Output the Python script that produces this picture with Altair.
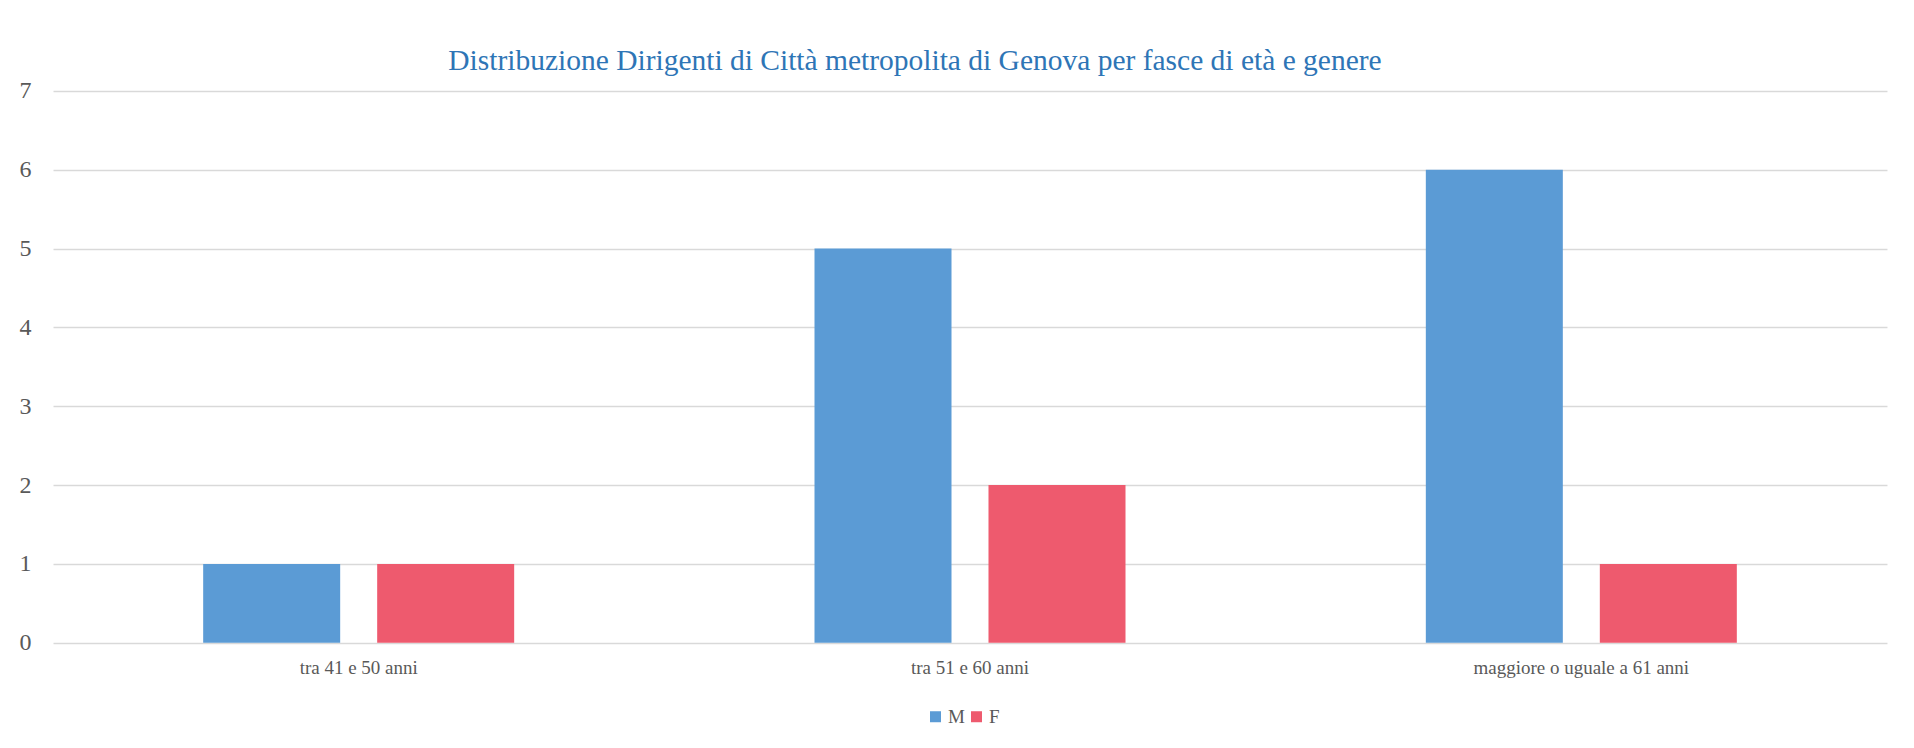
import altair as alt
import pandas as pd

categories = ["tra 41 e 50 anni", "tra 51 e 60 anni", "maggiore o uguale a 61 anni"]
genders = ["M", "F"]
values_m = [1, 5, 6]
values_f = [1, 2, 1]
colors = ["#5B9BD5", "#EE5A6E"]
title_text = "Distribuzione Dirigenti di Città metropolita di Genova per fasce di età e genere"

rows = []
for c, m, f in zip(categories, values_m, values_f):
    rows.append({"fascia": c, "genere": "M", "valore": m})
    rows.append({"fascia": c, "genere": "F", "valore": f})
df = pd.DataFrame(rows)

FONT = "Liberation Serif"
GRAY = "#595959"

chart = (
    alt.Chart(df)
    .mark_bar()
    .encode(
        x=alt.X(
            "fascia:N",
            sort=categories,
            scale=alt.Scale(paddingInner=0, paddingOuter=0),
            axis=alt.Axis(
                title=None,
                labelAngle=0,
                labelFont=FONT,
                labelFontSize=19,
                labelColor=GRAY,
                labelPadding=16,
                labelLimit=0,
                ticks=False,
                domain=False,
                grid=False,
            ),
        ),
        xOffset=alt.XOffset(
            "genere:N",
            sort=genders,
            scale=alt.Scale(paddingInner=0.2126, paddingOuter=0.863),
        ),
        y=alt.Y(
            "valore:Q",
            scale=alt.Scale(domain=[0, 7]),
            axis=alt.Axis(
                title=None,
                values=[0, 1, 2, 3, 4, 5, 6, 7],
                labelFont=FONT,
                labelFontSize=24,
                labelColor=GRAY,
                labelPadding=22,
                ticks=False,
                domain=False,
                gridColor="#D9D9D9",
                gridWidth=1.6,
            ),
        ),
        color=alt.Color(
            "genere:N",
            sort=genders,
            scale=alt.Scale(domain=genders, range=colors),
            legend=alt.Legend(
                title=None,
                orient="none",
                legendX=873,
                legendY=616,
                direction="horizontal",
                symbolType="square",
                symbolSize=121,
                symbolStrokeWidth=0,
                labelFont=FONT,
                labelFontSize=19,
                labelColor=GRAY,
                columnPadding=2,
                labelOffset=3,
            ),
        ),
    )
    .properties(
        width=1834,
        height=551.7,
        background="white",
        title=alt.TitleParams(
            text=title_text,
            font=FONT,
            fontSize=29.5,
            fontWeight="normal",
            color="#2E75B6",
            anchor="middle",
            dx=-55,
            offset=2,
        ),
        autosize=alt.AutoSizeParams(type="none"),
        padding={"left": 45, "top": 83, "right": 15, "bottom": 90},
    )
    .configure_view(strokeWidth=0, strokeOpacity=0)
)

chart.save("out.html", embed_options={"renderer": "svg", "actions": False})
